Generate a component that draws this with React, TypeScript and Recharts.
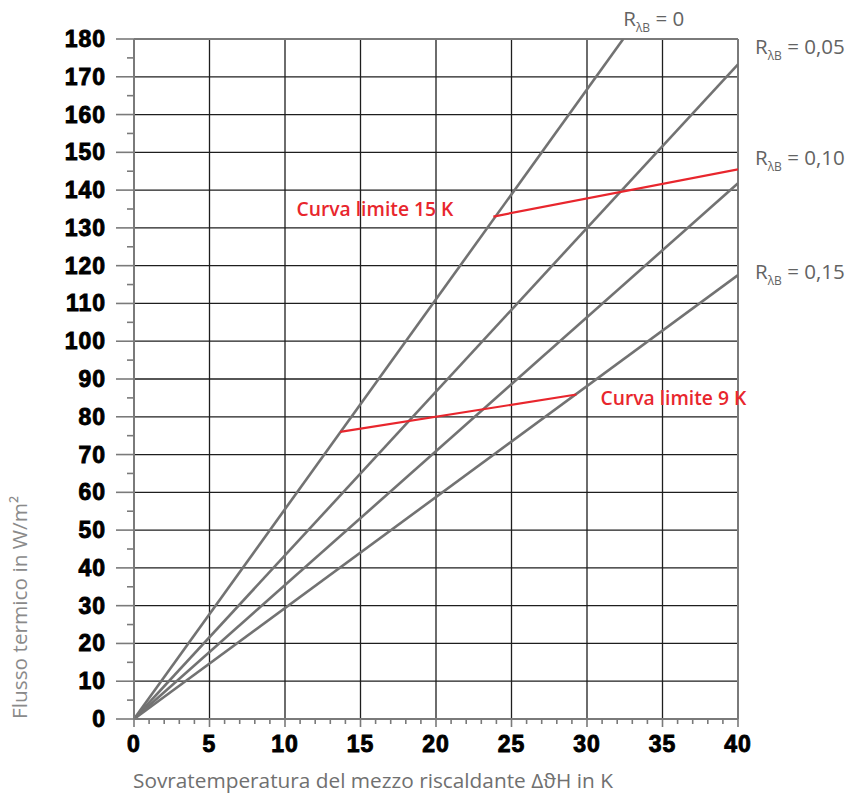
import { LineChart, Line, XAxis, YAxis, ReferenceLine, ReferenceDot, Label } from 'recharts'

// axis ticks (minor + major) and labelled values
const xTicks = [0, 1, 2, 3, 4, 5, 6, 7, 8, 9, 10, 11, 12, 13, 14, 15, 16, 17, 18, 19, 20,
  21, 22, 23, 24, 25, 26, 27, 28, 29, 30, 31, 32, 33, 34, 35, 36, 37, 38, 39, 40]
const xGrid = [5, 10, 15, 20, 25, 30, 35]
const yTicks = [0, 5, 10, 15, 20, 25, 30, 35, 40, 45, 50, 55, 60, 65, 70, 75, 80, 85, 90,
  95, 100, 105, 110, 115, 120, 125, 130, 135, 140, 145, 150, 155, 160, 165, 170, 175, 180]
const yGrid = [10, 20, 30, 40, 50, 60, 70, 80, 90, 100, 110, 120, 130, 140, 150, 160, 170]

// R_λB curves (ΔϑH in K, flux in W/m²)
const r000 = [{ x: 0, y: 0 }, { x: 32.4, y: 180 }]
const r005 = [{ x: 0, y: 0 }, { x: 40, y: 173.3 }]
const r010 = [{ x: 0, y: 0 }, { x: 40, y: 141.8 }]
const r015 = [{ x: 0, y: 0 }, { x: 40, y: 117.5 }]
const rNames = ['0', '0,05', '0,10', '0,15']

// limit curves
const limit15 = [{ x: 23.8, y: 133 }, { x: 40, y: 145.5 }]
const limit9 = [{ x: 13.65, y: 76 }, { x: 29.3, y: 85.9 }]

const GRAY = '#727272'
const AXIS = '#7a7a7a'
const GRID = '#1e1e1e'
const RED = '#e8262d'
const TICK_FONT = '"Liberation Sans", Arial, sans-serif'
const TEXT_FONT = '"Open Sans", "Noto Sans", sans-serif'

// pixel offsets of the R labels from the end of each curve
const rLabelOffsets = [
  { dx: 0, dy: -13 },
  { dx: 17, dy: -10 },
  { dx: 17, dy: -18 },
  { dx: 17, dy: 4 },
]

const YTick = ({ x, y, payload }: any) => {
  const axisX = x + 28
  const major = payload.value % 10 === 0
  return (
    <g>
      <line x1={axisX - (major ? 18 : 7)} x2={axisX} y1={y} y2={y} stroke={AXIS} strokeWidth={1.6} />
      {major && (
        <text x={x} y={y + 8} textAnchor="end" fontFamily={TICK_FONT} fontWeight={700}
          fontSize={23} fill="#000" stroke="#000" strokeWidth={0.9} letterSpacing={1}>
          {payload.value}
        </text>
      )}
    </g>
  )
}

const XTick = ({ x, y, payload }: any) => {
  const axisY = y - 16
  const major = payload.value % 5 === 0
  return (
    <g>
      <line x1={x} x2={x} y1={axisY} y2={axisY + (major ? 8 : 5)} stroke={AXIS} strokeWidth={1.6} />
      {major && (
        <text x={x} y={axisY + 33} textAnchor="middle" fontFamily={TICK_FONT} fontWeight={700}
          fontSize={23} fill="#000" stroke="#000" strokeWidth={0.9} letterSpacing={1}>
          {payload.value}
        </text>
      )}
    </g>
  )
}

const rLabel = (name: string, dx: number, dy: number) => (props: any) => {
  const { x, y } = props.viewBox
  return (
    <text x={x + dx} y={y + dy} fontFamily={TEXT_FONT} fontSize={20.5} fill="#636363">
      R<tspan fontSize={12} dy={6}>λB</tspan>
      <tspan dy={-6}>{' = ' + name}</tspan>
    </text>
  )
}

const redLabel = (text: string, dx: number, dy: number, anchor: 'start' | 'end') => (props: any) => {
  const { x, y } = props.viewBox
  return (
    <text x={x + dx} y={y + dy} textAnchor={anchor} fontFamily={TEXT_FONT} fontWeight={600}
      fontSize={19.3} fill={RED}>
      {text}
    </text>
  )
}

export default function App() {
  const curves = [r000, r005, r010, r015]
  return (
    <div style={{ position: 'absolute', left: 0, top: 0, width: 848, height: 805, background: '#fff' }}>
      <LineChart width={848} height={805} margin={{ top: 39, right: 110, left: 0, bottom: 0 }}>
        <XAxis dataKey="x" type="number" domain={[0, 40]} ticks={xTicks} interval={0}
          height={86} tickSize={10} tickMargin={6} tickLine={false} tick={<XTick />}
          axisLine={{ stroke: AXIS, strokeWidth: 2 }} allowDataOverflow>
          <Label content={(props: any) => (
            <text x={props.viewBox.x - 1} y={props.viewBox.y + 69} fontFamily={TEXT_FONT}
              fontSize={20.8} fill="#707070">
              Sovratemperatura del mezzo riscaldante ΔϑH in K
            </text>
          )} />
        </XAxis>
        <YAxis dataKey="y" type="number" domain={[0, 180]} ticks={yTicks} interval={0}
          width={134} tickSize={18} tickMargin={10} tickLine={false} tick={<YTick />}
          axisLine={{ stroke: AXIS, strokeWidth: 2 }} allowDataOverflow>
          <Label content={(props: any) => {
            const bx = props.viewBox.x + 27
            const by = props.viewBox.y + props.viewBox.height
            return (
              <text x={bx} y={by} transform={`rotate(-90 ${bx} ${by})`} fontFamily={TEXT_FONT}
                fontSize={20.8} fill="#8a8a8a">
                Flusso termico in W/m²
              </text>
            )
          }} />
        </YAxis>

        {yGrid.map((v) => (
          <ReferenceLine key={'h' + v} y={v} stroke={GRID} strokeWidth={1.3} />
        ))}
        {xGrid.map((v) => (
          <ReferenceLine key={'v' + v} x={v} stroke={GRID} strokeWidth={1.3} />
        ))}
        <ReferenceLine y={180} stroke={AXIS} strokeWidth={2} />
        <ReferenceLine x={40} stroke={AXIS} strokeWidth={2} />

        {curves.map((d, i) => (
          <Line key={'r' + i} data={d} dataKey="y" type="linear" stroke={GRAY} strokeWidth={2.6}
            dot={false} activeDot={false} isAnimationActive={false} />
        ))}
        <Line data={limit15} dataKey="y" type="linear" stroke={RED} strokeWidth={2.2}
          dot={false} activeDot={false} isAnimationActive={false} />
        <Line data={limit9} dataKey="y" type="linear" stroke={RED} strokeWidth={2.2}
          dot={false} activeDot={false} isAnimationActive={false} />

        {curves.map((d, i) => (
          <ReferenceDot key={'l' + i} x={d[1].x} y={d[1].y} r={0} fill="none" stroke="none"
            ifOverflow="visible"
            label={{ content: rLabel(rNames[i], rLabelOffsets[i].dx, rLabelOffsets[i].dy) }} />
        ))}
        <ReferenceDot x={limit15[0].x} y={limit15[0].y} r={0} fill="none" stroke="none"
          ifOverflow="visible" label={{ content: redLabel('Curva limite 15 K', -40, -1, 'end') }} />
        <ReferenceDot x={limit9[1].x} y={limit9[1].y} r={0} fill="none" stroke="none"
          ifOverflow="visible" label={{ content: redLabel('Curva limite 9 K', 24, 11, 'start') }} />
      </LineChart>
    </div>
  )
}
